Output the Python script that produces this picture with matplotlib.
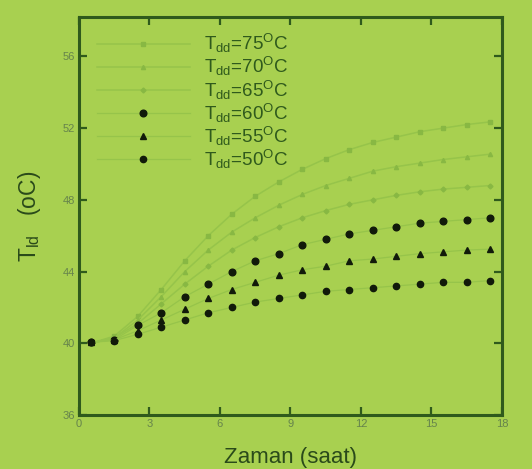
import matplotlib
matplotlib.use("Agg")
import matplotlib.pyplot as plt

plt.rcParams['font.family'] = ['Liberation Sans', 'DejaVu Sans']
plt.rcParams['mathtext.fontset'] = 'custom'
plt.rcParams['mathtext.rm'] = 'Liberation Sans'
plt.rcParams['mathtext.it'] = 'Liberation Sans'

hours = [0.5, 1.5, 2.5, 3.5, 4.5, 5.5, 6.5, 7.5, 8.5, 9.5, 10.5, 11.5, 12.5, 13.5, 14.5, 15.5, 16.5, 17.5]
t75 = [40.0, 40.4, 41.5, 43.0, 44.6, 46.0, 47.2, 48.2, 49.0, 49.7, 50.3, 50.8, 51.2, 51.5, 51.8, 52.0, 52.2, 52.35]
t70 = [40.0, 40.3, 41.3, 42.6, 44.0, 45.2, 46.2, 47.0, 47.7, 48.3, 48.8, 49.2, 49.6, 49.85, 50.05, 50.25, 50.4, 50.55]
t65 = [40.0, 40.3, 41.1, 42.2, 43.3, 44.3, 45.2, 45.9, 46.5, 47.0, 47.4, 47.75, 48.0, 48.25, 48.45, 48.6, 48.7, 48.8]
t60 = [40.05, 40.2, 41.0, 41.7, 42.6, 43.3, 44.0, 44.6, 45.0, 45.5, 45.8, 46.1, 46.3, 46.5, 46.7, 46.8, 46.9, 47.0]
t55 = [40.05, 40.2, 40.7, 41.3, 41.9, 42.5, 43.0, 43.4, 43.8, 44.1, 44.3, 44.6, 44.7, 44.85, 45.0, 45.1, 45.2, 45.25]
t50 = [40.05, 40.15, 40.5, 40.9, 41.3, 41.7, 42.0, 42.3, 42.5, 42.7, 42.9, 43.0, 43.1, 43.2, 43.3, 43.4, 43.4, 43.5]
labels = ['75', '70', '65', '60', '55', '50']
xticks = [0, 3, 6, 9, 12, 15, 18]
yticks = [36, 40, 44, 48, 52, 56]

bg = '#a8d050'
dark = '#2f5a1c'
glite = '#96c44a'
gmark = '#88b843'

fig = plt.figure(figsize=(5.32, 4.69), dpi=100, facecolor=bg)
ax = fig.add_axes([0.1485, 0.1151, 0.795, 0.8487])
ax.set_facecolor(bg)

series = [t75, t70, t65, t60, t55, t50]
styles = [
    dict(color=glite, marker='s', ms=3, mfc=gmark, mec=gmark, lw=1.1),
    dict(color=glite, marker='^', ms=3, mfc=gmark, mec=gmark, lw=1.1),
    dict(color=glite, marker='D', ms=2.5, mfc=gmark, mec=gmark, lw=1.1),
    dict(color=glite, marker='o', ms=4.8, mfc='#111a0a', mec='#111a0a', lw=0.9),
    dict(color=glite, marker='^', ms=4.0, mfc='#111a0a', mec='#111a0a', lw=0.9),
    dict(color=glite, marker='o', ms=4.5, mfc='#111a0a', mec='#111a0a', lw=0.9),
]
for s, lab, st in zip(series, labels, styles):
    ax.plot(hours, s, label=r'T$_{\rm dd}$=' + lab + r'$^{\rm O}$C', **st)

ax.set_xlim(0, 18)
ax.set_ylim(36, 58.2)
ax.set_xticks(xticks)
ax.set_yticks(yticks)
ax.tick_params(direction='in', length=6, width=1.6, color=dark,
               labelsize=8, labelcolor='#66844c', top=True, right=True, pad=3)
for sp in ax.spines.values():
    sp.set_color(dark)
    sp.set_linewidth(2.2)

ax.set_xlabel('Zaman (saat)', fontsize=16, color='#2a4a1a', labelpad=13)
ax.set_ylabel(r'T$_{\rm ld}$   (oC)', fontsize=16.5, color='#2a4a1a', labelpad=14)

leg = ax.legend(loc='upper left', bbox_to_anchor=(0.015, 0.99), frameon=False,
                prop={'size': 13.5}, handlelength=5.0, handletextpad=0.75,
                labelspacing=0.0, borderaxespad=0.2)
for t in leg.get_texts():
    t.set_color('#2f5a1c')

fig.savefig('out.png', dpi=100, facecolor=bg)
